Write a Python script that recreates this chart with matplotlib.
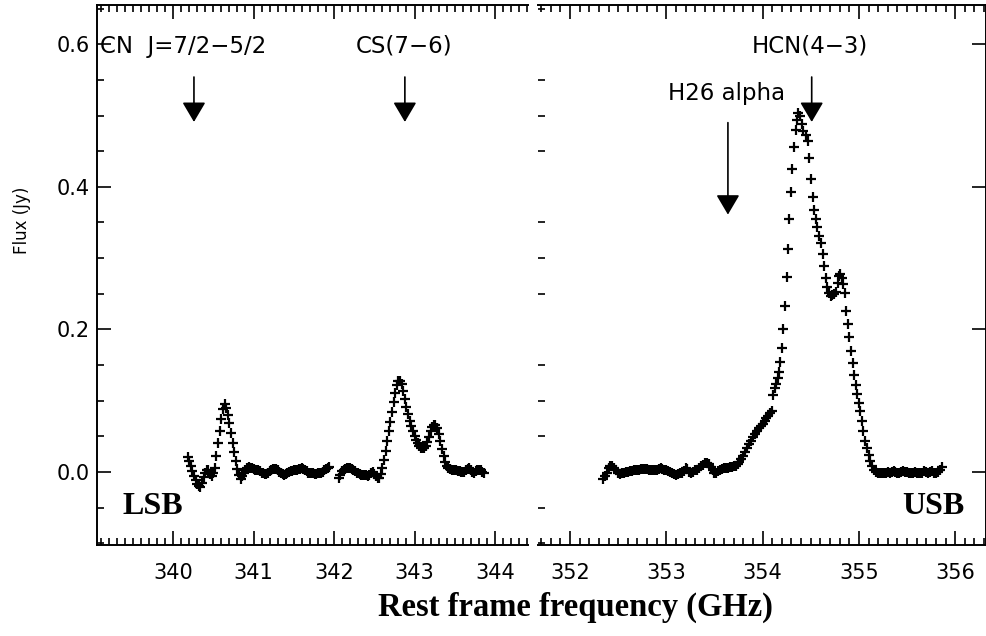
import matplotlib
matplotlib.use("Agg")
import matplotlib.pyplot as plt
from matplotlib.ticker import MultipleLocator, FormatStrFormatter

# LSB, first chunk (CN region)
lsb_a_freq = [340.18, 340.20, 340.22, 340.24, 340.26, 340.28, 340.30, 340.32, 340.34, 340.36,
              340.38, 340.40, 340.42, 340.44, 340.46, 340.48, 340.50, 340.52, 340.54, 340.56,
              340.58, 340.60, 340.62, 340.64, 340.66, 340.68, 340.70, 340.72, 340.74, 340.76,
              340.78, 340.80, 340.82, 340.84, 340.86, 340.88, 340.90, 340.92, 340.94, 340.96,
              340.98, 341.00, 341.02, 341.04, 341.06, 341.08, 341.10, 341.12, 341.14, 341.16,
              341.18, 341.20, 341.22, 341.24, 341.26, 341.28, 341.30, 341.32, 341.34, 341.36,
              341.38, 341.40, 341.42, 341.44, 341.46, 341.48, 341.50, 341.52, 341.54, 341.56,
              341.58, 341.60, 341.62, 341.64, 341.66, 341.68, 341.70, 341.72, 341.74, 341.76,
              341.78, 341.80, 341.82, 341.84, 341.86, 341.88, 341.90, 341.92, 341.94]
lsb_a_flux = [0.021, 0.015, 0.008, 0.001, -0.006, -0.012, -0.017, -0.020, -0.021, -0.015,
              -0.007, -0.001, 0.003, 0.002, -0.003, -0.006, -0.002, 0.006, 0.022, 0.040,
              0.057, 0.074, 0.088, 0.095, 0.090, 0.080, 0.068, 0.055, 0.041, 0.028,
              0.015, 0.004, -0.004, -0.010, -0.006, -0.001, 0.003, 0.006, 0.007, 0.006,
              0.005, 0.004, 0.003, 0.003, 0.002, 0.001, -0.001, -0.002, -0.003, -0.003,
              -0.001, 0.001, 0.003, 0.004, 0.004, 0.004, 0.002, 0.000, -0.002, -0.003,
              -0.004, -0.003, -0.001, 0.000, 0.001, 0.001, 0.002, 0.003, 0.003, 0.004,
              0.004, 0.005, 0.004, 0.003, 0.001, -0.001, -0.002, -0.002, -0.002, -0.003,
              -0.003, -0.002, -0.002, -0.001, 0.000, 0.002, 0.004, 0.005, 0.007]

# LSB, second chunk (CS region)
lsb_b_freq = [342.06, 342.08, 342.10, 342.12, 342.14, 342.16, 342.18, 342.20, 342.22, 342.24,
              342.26, 342.28, 342.30, 342.32, 342.34, 342.36, 342.38, 342.40, 342.42, 342.44,
              342.46, 342.48, 342.50, 342.52, 342.54, 342.56, 342.58, 342.60, 342.62, 342.64,
              342.66, 342.68, 342.70, 342.72, 342.74, 342.76, 342.78, 342.80, 342.82, 342.84,
              342.86, 342.88, 342.90, 342.92, 342.94, 342.96, 342.98, 343.00, 343.02, 343.04,
              343.06, 343.08, 343.10, 343.12, 343.14, 343.16, 343.18, 343.20, 343.22, 343.24,
              343.26, 343.28, 343.30, 343.32, 343.34, 343.36, 343.38, 343.40, 343.42, 343.44,
              343.46, 343.48, 343.50, 343.52, 343.54, 343.56, 343.58, 343.60, 343.62, 343.64,
              343.66, 343.68, 343.70, 343.72, 343.74, 343.76, 343.78, 343.80, 343.82, 343.84,
              343.86]
lsb_b_flux = [-0.008, -0.004, 0.001, 0.003, 0.004, 0.005, 0.005, 0.005, 0.004, 0.003,
              0.001, -0.001, -0.002, -0.003, -0.004, -0.004, -0.004, -0.005, -0.006, -0.005,
              -0.002, 0.000, -0.003, -0.006, -0.009, -0.008, -0.003, 0.006, 0.017, 0.030,
              0.043, 0.057, 0.070, 0.084, 0.098, 0.111, 0.122, 0.128, 0.128, 0.123,
              0.114, 0.102, 0.091, 0.081, 0.072, 0.065, 0.058, 0.051, 0.045, 0.040,
              0.036, 0.034, 0.033, 0.034, 0.037, 0.042, 0.049, 0.057, 0.063, 0.066,
              0.066, 0.062, 0.053, 0.043, 0.032, 0.022, 0.014, 0.009, 0.006, 0.004,
              0.003, 0.003, 0.002, 0.002, 0.001, 0.001, 0.000, 0.000, 0.000, 0.002,
              0.004, 0.005, 0.003, 0.000, -0.001, 0.001, 0.003, 0.003, 0.002, 0.000,
              -0.001]

# USB (H26 alpha + HCN region)
usb_freq = [352.34, 352.36, 352.38, 352.40, 352.42, 352.44, 352.46, 352.48, 352.50, 352.52,
            352.54, 352.56, 352.58, 352.60, 352.62, 352.64, 352.66, 352.68, 352.70, 352.72,
            352.74, 352.76, 352.78, 352.80, 352.82, 352.84, 352.86, 352.88, 352.90, 352.92,
            352.94, 352.96, 352.98, 353.00, 353.02, 353.04, 353.06, 353.08, 353.10, 353.12,
            353.14, 353.16, 353.18, 353.20, 353.22, 353.24, 353.26, 353.28, 353.30, 353.32,
            353.34, 353.36, 353.38, 353.40, 353.42, 353.44, 353.46, 353.48, 353.50, 353.52,
            353.54, 353.56, 353.58, 353.60, 353.62, 353.64, 353.66, 353.68, 353.70, 353.72,
            353.74, 353.76, 353.78, 353.80, 353.82, 353.84, 353.86, 353.88, 353.90, 353.92,
            353.94, 353.96, 353.98, 354.00, 354.02, 354.04, 354.06, 354.08, 354.095, 354.11,
            354.125, 354.14, 354.155, 354.17, 354.185, 354.20, 354.215, 354.234, 354.251, 354.268,
            354.279, 354.296, 354.31, 354.33, 354.345, 354.36, 354.372, 354.39, 354.407, 354.424,
            354.449, 354.47, 354.486, 354.504, 354.521, 354.538, 354.553, 354.57, 354.587, 354.608,
            354.632, 354.642, 354.66, 354.674, 354.69, 354.71, 354.725, 354.745, 354.764, 354.78,
            354.795, 354.805, 354.82, 354.84, 354.857, 354.87, 354.885, 354.90, 354.92, 354.935,
            354.95, 354.97, 354.98, 355.00, 355.015, 355.03, 355.045, 355.06, 355.08, 355.10,
            355.12, 355.14, 355.16, 355.18, 355.20, 355.22, 355.24, 355.26, 355.28, 355.30,
            355.32, 355.34, 355.36, 355.38, 355.40, 355.42, 355.44, 355.46, 355.48, 355.50,
            355.52, 355.54, 355.56, 355.58, 355.60, 355.62, 355.64, 355.66, 355.68, 355.70,
            355.72, 355.74, 355.76, 355.78, 355.80, 355.82, 355.84, 355.86]
usb_flux = [-0.010, -0.006, -0.001, 0.005, 0.009, 0.009, 0.006, 0.002, -0.001, -0.003,
            -0.002, -0.001, 0.000, 0.000, 0.001, 0.001, 0.002, 0.002, 0.002, 0.003,
            0.004, 0.004, 0.004, 0.004, 0.003, 0.002, 0.002, 0.002, 0.003, 0.004,
            0.005, 0.004, 0.003, 0.002, 0.001, 0.000, -0.002, -0.003, -0.004, -0.003,
            -0.002, -0.001, 0.001, 0.005, 0.004, 0.000, -0.001, 0.000, 0.002, 0.003,
            0.005, 0.008, 0.010, 0.012, 0.013, 0.011, 0.007, 0.002, -0.001, -0.001,
            0.001, 0.003, 0.004, 0.005, 0.005, 0.006, 0.007, 0.007, 0.008, 0.009,
            0.011, 0.014, 0.018, 0.023, 0.028, 0.033, 0.039, 0.044, 0.049, 0.053,
            0.057, 0.061, 0.064, 0.067, 0.071, 0.075, 0.079, 0.082, 0.086, 0.108,
            0.118, 0.124, 0.132, 0.140, 0.154, 0.174, 0.200, 0.233, 0.273, 0.313,
            0.355, 0.393, 0.425, 0.456, 0.480, 0.494, 0.503, 0.499, 0.488, 0.478,
            0.473, 0.464, 0.440, 0.411, 0.386, 0.368, 0.355, 0.344, 0.331, 0.321,
            0.306, 0.289, 0.272, 0.260, 0.251, 0.247, 0.248, 0.250, 0.253, 0.265,
            0.275, 0.278, 0.272, 0.264, 0.251, 0.226, 0.208, 0.189, 0.170, 0.153,
            0.136, 0.122, 0.110, 0.097, 0.085, 0.071, 0.057, 0.044, 0.033, 0.024,
            0.015, 0.008, 0.003, 0.000, -0.002, -0.002, -0.001, -0.002, -0.001, 0.000,
            -0.001, 0.000, 0.001, 0.000, -0.001, -0.001, 0.000, 0.001, 0.000, 0.000,
            -0.001, -0.002, -0.001, 0.000, -0.001, -0.002, -0.002, -0.001, 0.001, 0.000,
            -0.002, 0.000, 0.001, -0.001, -0.002, 0.000, 0.003, 0.007]

# line identifications: (label, arrow frequency)
lsb_lines = [("CN  J=7/2\u22125/2", 340.26), ("CS(7\u22126)", 342.88)]
usb_lines = [("HCN(4\u22123)", 354.51), ("H26 alpha", 353.64)]

serif = "Liberation Serif"
mk = dict(marker="+", linestyle="none", color="k", ms=6.5, mew=1.6)

fig = plt.figure(figsize=(9.87, 6.36), dpi=100)
axL = fig.add_axes([0.0983, 0.1431, 0.4367, 0.8490])
axR = fig.add_axes([0.5451, 0.1431, 0.4539, 0.8490])


def style(ax):
    ax.set_ylim(-0.1025, 0.655)
    ax.xaxis.set_major_locator(MultipleLocator(1))
    ax.xaxis.set_minor_locator(MultipleLocator(0.1))
    ax.yaxis.set_major_locator(MultipleLocator(0.2))
    ax.yaxis.set_minor_locator(MultipleLocator(0.05))
    ax.yaxis.set_major_formatter(FormatStrFormatter("%.1f"))
    ax.tick_params(which="both", direction="in", top=True, bottom=True,
                   width=1.2, colors="k")
    ax.tick_params(which="major", length=10)
    ax.tick_params(which="minor", length=5)
    ax.tick_params(axis="x", labelsize=15, pad=13)
    ax.tick_params(axis="y", labelsize=15, pad=5)
    for s in ax.spines.values():
        s.set_linewidth(1.4)


def arrow(ax, x, y0, y1):
    ax.annotate("", xy=(x, y1), xytext=(x, y0),
                arrowprops=dict(arrowstyle="-|>,head_length=1.22,head_width=0.72",
                                mutation_scale=10, color="k", lw=1.2,
                                shrinkA=0, shrinkB=0))


# left panel (LSB)
style(axL)
axL.set_xlim(339.056, 344.41)
axL.spines["right"].set_visible(False)
axL.tick_params(axis="y", left=True, right=False)
axL.plot(lsb_a_freq, lsb_a_flux, **mk)
axL.plot(lsb_b_freq, lsb_b_flux, **mk)
axL.text(339.093, 0.588, lsb_lines[0][0], fontsize=16.5, ha="left", va="baseline")
axL.text(lsb_lines[1][1] - 0.01, 0.588, lsb_lines[1][0], fontsize=16.5, ha="center", va="baseline")
for name, f in lsb_lines:
    arrow(axL, f, 0.554, 0.491)
axL.text(339.37, -0.048, "LSB", family=serif, weight="bold", fontsize=23,
         ha="left", va="center")

# right panel (USB)
style(axR)
axR.set_xlim(351.668, 356.32)
axR.spines["left"].set_visible(False)
axR.tick_params(axis="y", left=False, right=True, labelleft=False, labelright=False)
axR.plot(usb_freq, usb_flux, **mk)
axR.text(354.49, 0.588, usb_lines[0][0], fontsize=16.5, ha="center", va="baseline")
arrow(axR, usb_lines[0][1], 0.554, 0.491)
axR.text(353.63, 0.522, usb_lines[1][0], fontsize=16.5, ha="center", va="baseline")
arrow(axR, usb_lines[1][1], 0.490, 0.361)
axR.text(356.10, -0.048, "USB", family=serif, weight="bold", fontsize=23,
         ha="right", va="center")

fig.text(575 / 987, 1 - 607 / 636, "Rest frame frequency (GHz)", family=serif,
         weight="bold", fontsize=23.5, ha="center", va="center")
fig.text(22 / 987, 1 - 220 / 636, "Flux (Jy)", fontsize=12, rotation=90,
         ha="center", va="center")

fig.savefig("out.png", dpi=100)
